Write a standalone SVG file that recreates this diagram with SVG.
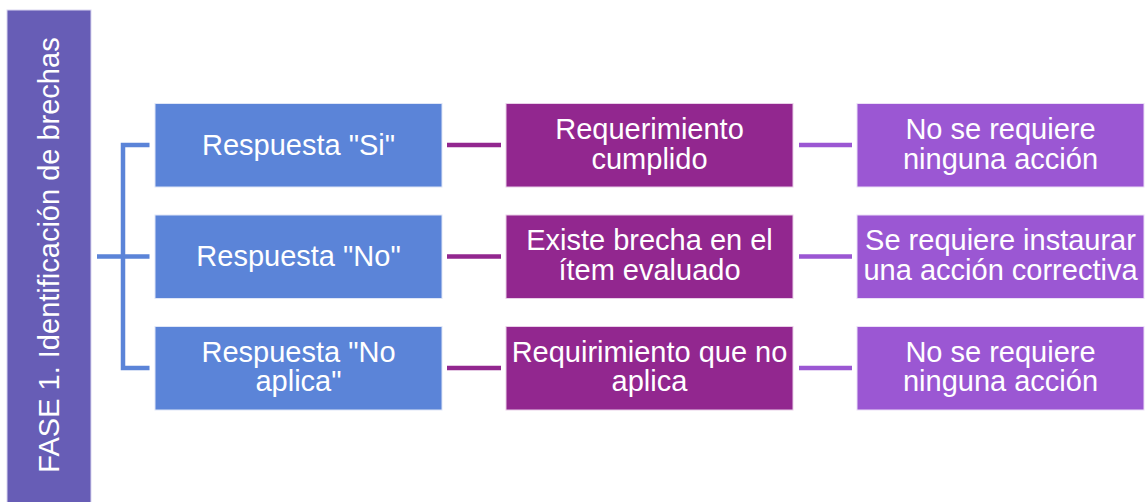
<svg xmlns="http://www.w3.org/2000/svg" width="1145" height="502" viewBox="0 0 1145 502">
<style>
text{font-family:"Liberation Sans",Arial,sans-serif;font-size:29px;fill:#ffffff;text-anchor:middle}
.blue{fill:#5b84d8;stroke:#dfe6f7;stroke-width:1}
.purple{fill:#92278f;stroke:#e9cfe8;stroke-width:1}
.violet{fill:#9b57d3;stroke:#ecdff7;stroke-width:1}
.cb{stroke:#5b84d8;stroke-width:4.5;fill:none}
.cp{stroke:#92278f;stroke-width:4.5;fill:none}
.cv{stroke:#9b57d3;stroke-width:4.5;fill:none}
</style>
<rect width="1145" height="502" fill="#ffffff"/>
<g id="fase">
<rect x="7" y="10" width="84" height="500" fill="#675db6" stroke="#d9d6ef" stroke-width="1"/>
<text transform="translate(59,255) rotate(-90)">FASE 1. Identificación de brechas</text>
</g>
<g id="connectors">
<path class="cb" d="M149.5,145 H123 V368 H149.5 M97,256.5 H149.5"/>
<path class="cp" d="M447,145 H501 M447,256.5 H501 M447,368 H501"/>
<path class="cv" d="M799,145 H852 M799,256.5 H852 M799,368 H852"/>
</g>
<g id="r-si">
<rect class="blue" x="155" y="103.5" width="287" height="83.5"/>
<text x="298.5" y="155">Respuesta "Si"</text>
</g>
<g id="r-no">
<rect class="blue" x="155" y="215" width="287" height="83.5"/>
<text x="298.5" y="266">Respuesta "No"</text>
</g>
<g id="r-na">
<rect class="blue" x="155" y="326.5" width="287" height="83.5"/>
<text x="298.5" y="362">Respuesta "No</text>
<text x="298.5" y="391">aplica"</text>
</g>
<g id="m-cumplido">
<rect class="purple" x="506" y="103.5" width="287" height="83.5"/>
<text x="649.5" y="139">Requerimiento</text>
<text x="649.5" y="169">cumplido</text>
</g>
<g id="m-brecha">
<rect class="purple" x="506" y="215" width="287" height="83.5"/>
<text x="649.5" y="250">Existe brecha en el</text>
<text x="649.5" y="280">ítem evaluado</text>
</g>
<g id="m-noaplica">
<rect class="purple" x="506" y="326.5" width="287" height="83.5"/>
<text x="649.5" y="362">Requirimiento que no</text>
<text x="649.5" y="391">aplica</text>
</g>
<g id="a-ninguna1">
<rect class="violet" x="857" y="103.5" width="287" height="83.5"/>
<text x="1000.5" y="139">No se requiere</text>
<text x="1000.5" y="169">ninguna acción</text>
</g>
<g id="a-correctiva">
<rect class="violet" x="857" y="215" width="287" height="83.5"/>
<text x="1000.5" y="250">Se requiere instaurar</text>
<text x="1000.5" y="280">una acción correctiva</text>
</g>
<g id="a-ninguna2">
<rect class="violet" x="857" y="326.5" width="287" height="83.5"/>
<text x="1000.5" y="362">No se requiere</text>
<text x="1000.5" y="391">ninguna acción</text>
</g>
</svg>
